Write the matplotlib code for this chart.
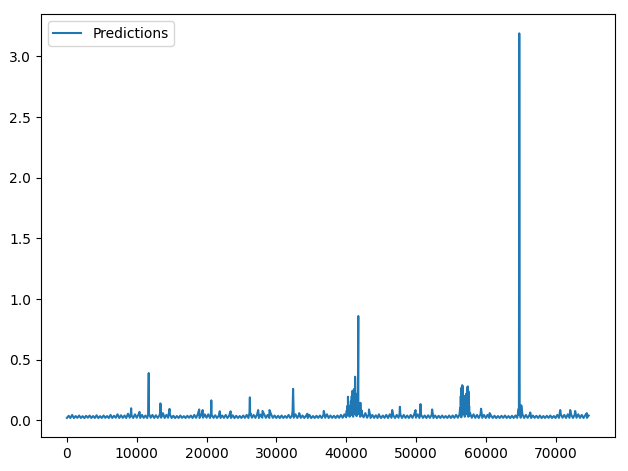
import numpy as np
import matplotlib
matplotlib.use('Agg')
import matplotlib.pyplot as plt

# baseline band, one value every 250 steps (0 .. 74750)
base_x = np.arange(0, 75000, 250)
base_y = [0.02, 0.038, 0.02, 0.045, 0.019, 0.036, 0.021, 0.04, 0.02, 0.035, 0.019, 0.038, 0.022, 0.04, 0.02, 0.036, 0.02, 0.042, 0.019, 0.035,
          0.02, 0.04, 0.021, 0.036, 0.02, 0.045, 0.02, 0.038, 0.022, 0.05, 0.02, 0.042, 0.021, 0.04, 0.02, 0.055, 0.022, 0.045, 0.02, 0.05,
          0.022, 0.048, 0.02, 0.045, 0.021, 0.04, 0.02, 0.05, 0.022, 0.045, 0.02, 0.042, 0.021, 0.04, 0.022, 0.06, 0.02, 0.045, 0.022, 0.05,
          0.02, 0.038, 0.019, 0.036, 0.02, 0.04, 0.021, 0.035, 0.02, 0.038, 0.022, 0.04, 0.02, 0.045, 0.021, 0.05, 0.02, 0.045, 0.022, 0.05,
          0.022, 0.05, 0.02, 0.045, 0.021, 0.042, 0.02, 0.038, 0.02, 0.04, 0.021, 0.045, 0.02, 0.04, 0.02, 0.042, 0.019, 0.038, 0.02, 0.036,
          0.02, 0.04, 0.021, 0.045, 0.02, 0.05, 0.022, 0.045, 0.021, 0.05, 0.02, 0.048, 0.022, 0.05, 0.021, 0.045, 0.02, 0.05, 0.021, 0.04,
          0.02, 0.038, 0.019, 0.04, 0.02, 0.036, 0.021, 0.045, 0.02, 0.04, 0.022, 0.05, 0.02, 0.045, 0.021, 0.04, 0.02, 0.038, 0.02, 0.045,
          0.019, 0.036, 0.02, 0.038, 0.021, 0.04, 0.02, 0.045, 0.022, 0.05, 0.02, 0.04, 0.021, 0.038, 0.02, 0.04, 0.021, 0.045, 0.022, 0.05,
          0.025, 0.06, 0.03, 0.08, 0.03, 0.09, 0.035, 0.1, 0.03, 0.08, 0.025, 0.06, 0.022, 0.05, 0.02, 0.045, 0.021, 0.042, 0.02, 0.04,
          0.02, 0.04, 0.021, 0.045, 0.02, 0.05, 0.021, 0.042, 0.02, 0.045, 0.022, 0.05, 0.02, 0.045, 0.021, 0.04, 0.02, 0.045, 0.021, 0.05,
          0.022, 0.05, 0.02, 0.045, 0.021, 0.04, 0.02, 0.042, 0.021, 0.045, 0.02, 0.04, 0.019, 0.038, 0.02, 0.04, 0.021, 0.036, 0.02, 0.04,
          0.02, 0.04, 0.021, 0.045, 0.022, 0.05, 0.025, 0.06, 0.03, 0.07, 0.03, 0.06, 0.022, 0.05, 0.021, 0.045, 0.02, 0.05, 0.021, 0.045,
          0.02, 0.045, 0.021, 0.04, 0.02, 0.038, 0.019, 0.036, 0.02, 0.038, 0.021, 0.04, 0.02, 0.036, 0.019, 0.038, 0.02, 0.04, 0.021, 0.045,
          0.022, 0.05, 0.02, 0.045, 0.021, 0.042, 0.02, 0.04, 0.021, 0.038, 0.02, 0.04, 0.019, 0.036, 0.02, 0.038, 0.021, 0.04, 0.02, 0.036,
          0.02, 0.045, 0.021, 0.05, 0.022, 0.045, 0.02, 0.05, 0.021, 0.045, 0.02, 0.048, 0.022, 0.05, 0.021, 0.045, 0.02, 0.042, 0.021, 0.04]

# busy stretch around 40000-42300
clusterA_x = [40020, 40080, 40140, 40200, 40260, 40320, 40380, 40440,
              40560, 40620, 40680, 40740, 40800, 40860, 40920, 40980,
              41040, 41100, 41160, 41220, 41280, 41340, 41400, 41460,
              41560, 41620, 41680, 41740, 41800, 41860, 41920, 41980,
              42040, 42100, 42160, 42220, 42280]
clusterA_y = [0.04, 0.08, 0.04, 0.12, 0.195, 0.05, 0.1, 0.04,
              0.12, 0.04, 0.16, 0.05, 0.2, 0.06, 0.245, 0.06,
              0.18, 0.05, 0.26, 0.08, 0.36, 0.06, 0.22, 0.05,
              0.15, 0.05, 0.12, 0.86, 0.06, 0.13, 0.05, 0.1,
              0.145, 0.05, 0.08, 0.04, 0.05]

# double hump around 56300-57700
clusterB_x = [56320, 56370, 56420, 56470, 56520, 56570, 56620, 56670, 56720, 56770,
              56820, 56870, 56920, 56970, 57020, 57070, 57120, 57170, 57220, 57270,
              57320, 57370, 57420, 57470, 57520, 57570, 57620, 57670]
clusterB_y = [0.1, 0.04, 0.2, 0.05, 0.27, 0.06, 0.29, 0.05, 0.28, 0.06,
              0.2, 0.05, 0.18, 0.06, 0.2, 0.05, 0.18, 0.06, 0.22, 0.05,
              0.27, 0.06, 0.28, 0.05, 0.24, 0.05, 0.12, 0.04]

# single spikes and bumps
spike_x = [9150, 9200, 9260, 10400, 11650, 11720, 11790, 13350, 13400, 13450,
           14700, 18950, 19450, 20630, 20680, 20730, 21900, 23450, 26150, 26210,
           26270, 27400, 28020, 29020, 32330, 32400, 32470, 33270, 34450, 36800,
           43270, 44700, 46600, 47650, 47700, 47760, 49940, 50600, 50650, 50700,
           52320, 59330, 60560, 64740, 64800, 64860, 65090, 66380, 70670, 72100,
           72810, 74480]
spike_y = [0.05, 0.1, 0.04, 0.07, 0.05, 0.39, 0.05, 0.06, 0.14, 0.06,
           0.095, 0.09, 0.085, 0.05, 0.165, 0.05, 0.075, 0.075, 0.06, 0.19,
           0.06, 0.085, 0.078, 0.085, 0.08, 0.26, 0.08, 0.06, 0.055, 0.078,
           0.09, 0.05, 0.085, 0.05, 0.112, 0.05, 0.085, 0.05, 0.134, 0.05,
           0.09, 0.096, 0.06, 0.1, 3.19, 0.12, 0.124, 0.065, 0.085, 0.085,
           0.077, 0.06]

xs = np.concatenate([base_x, clusterA_x, clusterB_x, spike_x])
ys = np.concatenate([base_y, clusterA_y, clusterB_y, spike_y])
order = np.argsort(xs, kind='stable')

fig, ax = plt.subplots(figsize=(6.28, 4.71), dpi=100)
ax.plot(xs[order], ys[order], label='Predictions')
ax.legend(loc='upper left')
fig.subplots_adjust(left=0.065, right=0.979, top=0.970, bottom=0.0715)
fig.savefig('out.png')
